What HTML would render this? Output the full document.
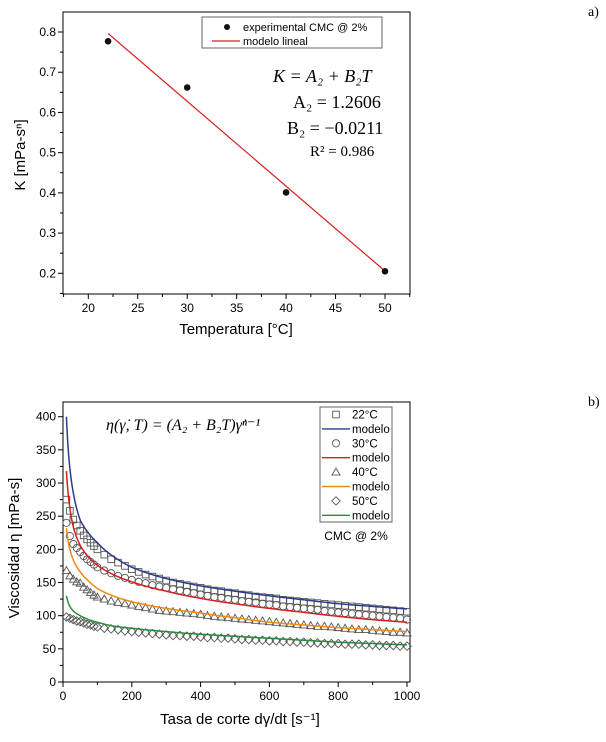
<!DOCTYPE html>
<html><head><meta charset="utf-8"><style>
body{margin:0;background:#fff;width:606px;height:737px;overflow:hidden}
svg text{font-family:"Liberation Sans",Arial,sans-serif}
.serif{font-family:"Liberation Serif","DejaVu Serif",serif}
</style></head><body>
<svg id="s" width="606" height="737" viewBox="0 0 606 737" xmlns="http://www.w3.org/2000/svg">
<text class="serif" x="588" y="16" font-size="14">a)</text>
<text class="serif" x="588" y="406" font-size="14">b)</text>
<g id="c1"></g>
<g id="c2"></g>
</svg>
<script>
// ---- chart a data ----
const tempCats = [22, 30, 40, 50];
const kValues = [0.777, 0.662, 0.401, 0.205];
const modelA2 = 1.2606;
const modelB2 = -0.0211;
const xTicksA = [20, 25, 30, 35, 40, 45, 50];
const yTicksA = [0.2, 0.3, 0.4, 0.5, 0.6, 0.7, 0.8];

// ---- chart b data ----
const rateX = [10,20,30,40,50,60,70,80,90,100,120,140,160,180,200,220,240,260,280,300,320,340,360,380,400,420,440,460,480,500,520,540,560,580,600,620,640,660,680,700,720,740,760,780,800,820,840,860,880,900,920,940,960,980,1000];
const visc22 = [275,258,245,236,228,221,215,210,205,200,192,185,180,175,170,166,162,159,156,153,150,148,146,144,142,140,138,137,135,134,132,131,129,128,127,126,124,123,122,121,120,119,118,117,116,115,114,113,112,111,110,109,108,107,106];
const visc30 = [240,220,208,202,196,190,185,181,177,173,168,164,160,157,154,151,149,146,144,142,140,138,136,134,132,130,128,127,125,124,122,121,120,118,117,116,114,113,112,111,110,109,107,106,105,104,103,102,101,100,99,98,97,96,94];
const visc40 = [168,160,155,151,149,143,139,135,131,128,125,122,120,118,116,114,112,110,108,107,106,105,104,103,102,100,99,98,97,96,95,94,93,92,91,90,89,88,87,86,85,84,84,83,82,81,80,79,79,78,77,76,75,75,74];
const visc50 = [98,96,94,92,91,89,87,86,84,83,81,80,79,77,76,75,74,73,72,71,70,70,69,69,68,67,67,66,66,65,64,64,63,63,62,62,61,61,60,60,59,59,58,58,58,57,57,57,56,56,55,55,55,54,54];
const modelX = [10,15,20,30,50,75,100,150,200,300,400,500,600,700,800,900,1000];
const model22 = [400,352,322,285,244,224,210,188,173,156,145,137,130,124,118,114,110];
const model30 = [318,284,262,234,206,188,176,161,151,137,126,118,111,105,99,94,90];
const model40 = [232,212,200,184,166,152,141,129,121,111,104,97,90,86,82,79,76];
const model50 = [130,120,114,107,100,94,90,84,81,76,72,69,66,63,60,58,56];
const xTicksB = [0,200,400,600,800,1000];
const yTicksB = [0,50,100,150,200,250,300,350,400];

const NS = "http://www.w3.org/2000/svg";
function mk(parent, tag, attrs, text){
  const e = document.createElementNS(NS, tag);
  for (const k in attrs) e.setAttribute(k, attrs[k]);
  if (text !== undefined) e.textContent = text;
  parent.appendChild(e);
  return e;
}
// log-log piecewise interpolation of the array values, sampled densely
function logLogPath(xs, ys, xf, yf){
  const lx = xs.map(Math.log), ly = ys.map(Math.log);
  let d = "";
  const N = 300;
  const a = lx[0], b = lx[lx.length-1];
  let j = 0;
  for (let k = 0; k <= N; k++){
    const t = a + (b - a) * k / N;
    while (j < lx.length - 2 && t > lx[j+1]) j++;
    const f = (t - lx[j]) / (lx[j+1] - lx[j]);
    const v = Math.exp(ly[j] + f * (ly[j+1] - ly[j]));
    const px = xf(Math.exp(t)), py = yf(v);
    d += (k === 0 ? "M" : " L") + px.toFixed(2) + "," + py.toFixed(2);
  }
  return d;
}

// ===== Chart A =====
(function(){
  const g = document.getElementById("c1");
  const L = 63, R = 410, T = 12, B = 294;
  const xA = v => 88.3 + (v - 20) * (385 - 88.3) / 30;
  const yA = v => 273.3 - (v - 0.2) * (273.3 - 32) / 0.6;
  const frame = mk(g, "rect", {x:L, y:T, width:R-L, height:B-T, fill:"none", stroke:"#000", "stroke-width":1});
  
  
  for (let v = 17.5; v <= 52.5; v += 2.5){
    const px = xA(v); if (px < L || px > R) continue;
    const major = Math.abs(v % 5) < 0.01;
    mk(g, "line", {x1:px, x2:px, y1:B, y2:B + (major ? 5 : 3), stroke:"#000"});
  }
  xTicksA.forEach(v => {
    const t = mk(g, "text", {x:xA(v), y:B + 18, "font-size":12, "text-anchor":"middle"}, v);
    
    
  });
  for (let v = 0.15; v <= 0.86; v += 0.05){
    const py = yA(v); if (py < T || py > B) continue;
    const major = Math.round(v*100) % 10 === 0;
    mk(g, "line", {x1:L, x2:L - (major ? 5 : 3), y1:py, y2:py, stroke:"#000"});
  }
  yTicksA.forEach(v => {
    const t = mk(g, "text", {x:L - 7, y:yA(v) + 4, "font-size":12, "text-anchor":"end"}, v.toFixed(1));
    
    
  });
  const xl = mk(g, "text", {x:236, y:334, "font-size":15, "text-anchor":"middle"}, "Temperatura [°C]");
  
  
  const yl = mk(g, "text", {x:0, y:0, "font-size":15, "text-anchor":"middle", transform:"translate(25,155) rotate(-90)"}, "K [mPa-sⁿ]");
  
  
  const t0 = tempCats[0], t1 = tempCats[tempCats.length-1];
  const ln = mk(g, "line", {x1:xA(t0), y1:yA(modelA2 + modelB2*t0), x2:xA(t1), y2:yA(modelA2 + modelB2*t1), stroke:"#d42020", "stroke-width":1.2});
  
  
  tempCats.forEach((c, i) => {
    const p = mk(g, "circle", {cx:xA(c), cy:yA(kValues[i]), r:3.3, fill:"#111"});
    
    
  });
  const lg = mk(g, "g", {});
  
  
  mk(lg, "rect", {x:202, y:17, width:180, height:31, fill:"#fff", stroke:"#666"});
  mk(lg, "circle", {cx:227, cy:27, r:3, fill:"#111"});
  mk(lg, "text", {x:243, y:31, "font-size":11}, "experimental CMC @ 2%");
  mk(lg, "line", {x1:212, x2:240, y1:41, y2:41, stroke:"#d42020", "stroke-width":1.2});
  mk(lg, "text", {x:243, y:45, "font-size":11}, "modelo lineal");
  const eq = mk(g, "g", {class:"serif"});
  
  
  mk(eq, "text", {x:273, y:82, "font-size":18, "font-style":"italic", class:"serif"}, "K = A₂ + B₂T");
  mk(eq, "text", {x:293, y:108, "font-size":18, class:"serif"}, "A₂ = 1.2606");
  mk(eq, "text", {x:287, y:134, "font-size":18, class:"serif"}, "B₂ = −0.0211");
  mk(eq, "text", {x:310, y:156, "font-size":15, class:"serif"}, "R² = 0.986");
})();

// ===== Chart B =====
(function(){
  const g = document.getElementById("c2");
  const L = 63, R = 410, T = 402, B = 682;
  const xB = v => 63 + v * (407 - 63) / 1000;
  const yB = v => 682 - v * (682 - 416.7) / 400;
  mk(g, "rect", {x:L, y:T, width:R-L, height:B-T, fill:"none", stroke:"#000"});
  for (let v = 0; v <= 1000; v += 100){
    mk(g, "line", {x1:xB(v), x2:xB(v), y1:B, y2:B + (v % 200 === 0 ? 5 : 3), stroke:"#000"});
  }
  xTicksB.forEach(v => {
    const t = mk(g, "text", {x:xB(v), y:B + 18, "font-size":12, "text-anchor":"middle"}, v);
    
    
  });
  for (let v = 0; v <= 425; v += 25){
    if (yB(v) < T) continue;
    mk(g, "line", {x1:L, x2:L - (v % 50 === 0 ? 5 : 3), y1:yB(v), y2:yB(v), stroke:"#000"});
  }
  yTicksB.forEach(v => {
    const t = mk(g, "text", {x:L - 7, y:yB(v) + 4, "font-size":12, "text-anchor":"end"}, v);
    
    
  });
  const xl = mk(g, "text", {x:240, y:724, "font-size":15, "text-anchor":"middle"}, "Tasa de corte dγ/dt [s⁻¹]");
  
  
  const yl = mk(g, "text", {x:0, y:0, "font-size":15, "text-anchor":"middle", transform:"translate(19,548) rotate(-90)"}, "Viscosidad η [mPa-s]");
  
  

  const grey = "#555";
  function marker(parent, type, x, y){
    if (type === "sq") return mk(parent, "rect", {x:x-3.3, y:y-3.3, width:6.6, height:6.6, fill:"none", stroke:grey, "stroke-width":0.9});
    if (type === "ci") return mk(parent, "circle", {cx:x, cy:y, r:3.6, fill:"none", stroke:grey, "stroke-width":0.9});
    if (type === "tr") return mk(parent, "path", {d:`M${x},${y-4} L${x+4},${y+3} L${x-4},${y+3} Z`, fill:"none", stroke:grey, "stroke-width":0.9});
    return mk(parent, "path", {d:`M${x},${y-4.2} L${x+4.2},${y} L${x},${y+4.2} L${x-4.2},${y} Z`, fill:"none", stroke:grey, "stroke-width":0.9});
  }
  const series = [
    {vals:visc22, m:"sq", model:model22, col:"#2e3a8c", name:"22"},
    {vals:visc30, m:"ci", model:model30, col:"#d42020", name:"30"},
    {vals:visc40, m:"tr", model:model40, col:"#f08a10", name:"40"},
    {vals:visc50, m:"di", model:model50, col:"#2a8a3a", name:"50"}
  ];
  series.forEach(s => {
    const sg = mk(g, "g", {});
    
    
    rateX.forEach((x, i) => {
      const mm = marker(sg, s.m, xB(x), yB(s.vals[i]));
      
      
    });
  });
  series.forEach(s => {
    const p = mk(g, "path", {d:logLogPath(modelX, s.model, xB, yB), fill:"none", stroke:s.col, "stroke-width":1.5, "stroke-linejoin":"round"});
    
    
  });
  const eq = mk(g, "text", {x:106, y:430, "font-size":16, "font-style":"italic", class:"serif"}, "η(γ̇, T) = (A₂ + B₂T)γ̇ⁿ⁻¹");
  
  
  const lg = mk(g, "g", {});
  
  
  mk(lg, "rect", {x:320, y:407, width:72, height:115, fill:"#fff", stroke:"#666"});
  const labels = ["22°C","modelo","30°C","modelo","40°C","modelo","50°C","modelo"];
  labels.forEach((lab, i) => {
    const y = 414.5 + i * 14.4;
    const s = series[Math.floor(i/2)];
    if (i % 2 === 0) marker(lg, s.m, 336, y);
    else mk(lg, "line", {x1:322, x2:350, y1:y, y2:y, stroke:s.col, "stroke-width":1.4});
    mk(lg, "text", {x:352, y:y + 4, "font-size":11.5}, lab);
  });
  const cmc = mk(g, "text", {x:356, y:540, "font-size":12, "text-anchor":"middle"}, "CMC @ 2%");
  
  
})();
</script>
</body></html>
